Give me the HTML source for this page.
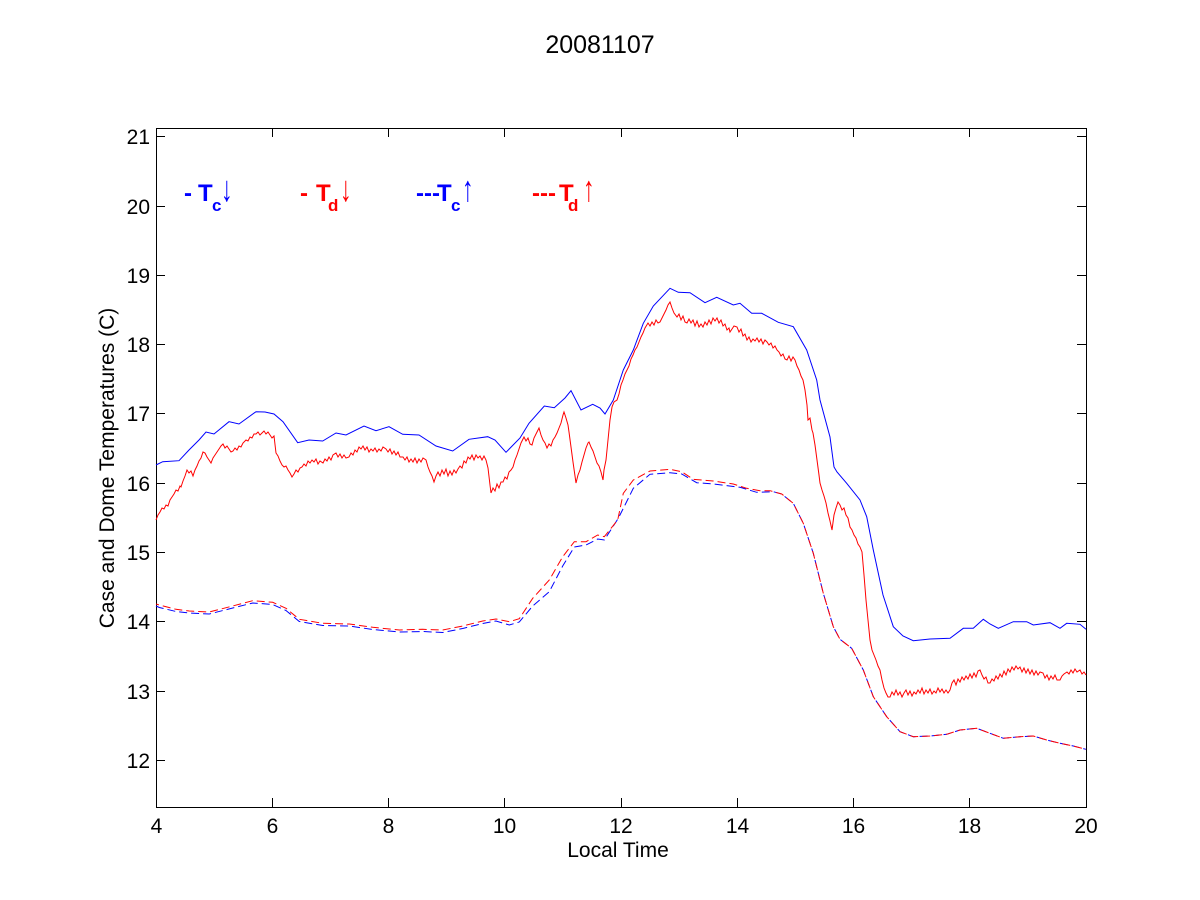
<!DOCTYPE html>
<html>
<head>
<meta charset="utf-8">
<style>
html,body{margin:0;padding:0;background:#fff;}
svg{display:block;}
text{font-family:"Liberation Sans",Arial,sans-serif;fill:#000;}
</style>
</head>
<body>
<svg width="1200" height="900" viewBox="0 0 1200 900" xmlns="http://www.w3.org/2000/svg">
<rect x="0" y="0" width="1200" height="900" fill="#fff"/>

<!-- title -->
<text x="600" y="53" font-size="25" text-anchor="middle">20081107</text>

<!-- axes box -->
<rect x="156.5" y="128.5" width="930" height="679" fill="none" stroke="#000" stroke-width="1"/>

<!-- ticks -->
<g stroke="#000" stroke-width="1">
<line x1="272.5" y1="807" x2="272.5" y2="798"/><line x1="272.5" y1="128" x2="272.5" y2="137"/>
<line x1="388.5" y1="807" x2="388.5" y2="798"/><line x1="388.5" y1="128" x2="388.5" y2="137"/>
<line x1="504.5" y1="807" x2="504.5" y2="798"/><line x1="504.5" y1="128" x2="504.5" y2="137"/>
<line x1="621.5" y1="807" x2="621.5" y2="798"/><line x1="621.5" y1="128" x2="621.5" y2="137"/>
<line x1="737.5" y1="807" x2="737.5" y2="798"/><line x1="737.5" y1="128" x2="737.5" y2="137"/>
<line x1="853.5" y1="807" x2="853.5" y2="798"/><line x1="853.5" y1="128" x2="853.5" y2="137"/>
<line x1="969.5" y1="807" x2="969.5" y2="798"/><line x1="969.5" y1="128" x2="969.5" y2="137"/>
<line x1="156" y1="760.5" x2="165" y2="760.5"/><line x1="1086" y1="760.5" x2="1077" y2="760.5"/>
<line x1="156" y1="691.5" x2="165" y2="691.5"/><line x1="1086" y1="691.5" x2="1077" y2="691.5"/>
<line x1="156" y1="621.5" x2="165" y2="621.5"/><line x1="1086" y1="621.5" x2="1077" y2="621.5"/>
<line x1="156" y1="552.5" x2="165" y2="552.5"/><line x1="1086" y1="552.5" x2="1077" y2="552.5"/>
<line x1="156" y1="483.5" x2="165" y2="483.5"/><line x1="1086" y1="483.5" x2="1077" y2="483.5"/>
<line x1="156" y1="413.5" x2="165" y2="413.5"/><line x1="1086" y1="413.5" x2="1077" y2="413.5"/>
<line x1="156" y1="344.5" x2="165" y2="344.5"/><line x1="1086" y1="344.5" x2="1077" y2="344.5"/>
<line x1="156" y1="275.5" x2="165" y2="275.5"/><line x1="1086" y1="275.5" x2="1077" y2="275.5"/>
<line x1="156" y1="206.5" x2="165" y2="206.5"/><line x1="1086" y1="206.5" x2="1077" y2="206.5"/>
<line x1="156" y1="136.5" x2="165" y2="136.5"/><line x1="1086" y1="136.5" x2="1077" y2="136.5"/>
</g>

<!-- x tick labels -->
<g font-size="21" text-anchor="middle">
<text x="156.5" y="833">4</text>
<text x="272.5" y="833">6</text>
<text x="388.5" y="833">8</text>
<text x="504.5" y="833">10</text>
<text x="621" y="833">12</text>
<text x="737.5" y="833">14</text>
<text x="853.5" y="833">16</text>
<text x="969.5" y="833">18</text>
<text x="1086" y="833">20</text>
</g>
<!-- y tick labels -->
<g font-size="21" text-anchor="end">
<text x="150" y="768">12</text>
<text x="150" y="699">13</text>
<text x="150" y="629">14</text>
<text x="150" y="560">15</text>
<text x="150" y="491">16</text>
<text x="150" y="421">17</text>
<text x="150" y="352">18</text>
<text x="150" y="283">19</text>
<text x="150" y="214">20</text>
<text x="150" y="144">21</text>
</g>

<!-- axis labels -->
<text x="618" y="857" font-size="21" text-anchor="middle">Local Time</text>
<text x="0" y="0" font-size="21" text-anchor="middle" transform="translate(114,468) rotate(-90)">Case and Dome Temperatures (C)</text>

<!-- legend -->
<g font-weight="bold">
<text x="184" y="201" font-size="24" style="fill:#0000ff">-</text>
<text x="198" y="201" font-size="24" style="fill:#0000ff">T</text>
<text x="212" y="211" font-size="17" style="fill:#0000ff">c</text>
<text x="300" y="201" font-size="24" style="fill:#ff0000">-</text>
<text x="316" y="201" font-size="24" style="fill:#ff0000">T</text>
<text x="328" y="211" font-size="17" style="fill:#ff0000">d</text>
<text x="416" y="201" font-size="24" style="fill:#0000ff">---</text>
<text x="437" y="201" font-size="24" style="fill:#0000ff">T</text>
<text x="451" y="211" font-size="17" style="fill:#0000ff">c</text>
<text x="532" y="201" font-size="24" style="fill:#ff0000">---</text>
<text x="559" y="201" font-size="24" style="fill:#ff0000">T</text>
<text x="568" y="211" font-size="17" style="fill:#ff0000">d</text>
</g>
<g font-size="36">
<text transform="translate(221,201) scale(0.65,1)" style="fill:#0000ff">↓</text>
<text transform="translate(340,201) scale(0.65,1)" style="fill:#ff0000">↓</text>
<text transform="translate(462,201) scale(0.65,1)" style="fill:#0000ff">↑</text>
<text transform="translate(583,201) scale(0.65,1)" style="fill:#ff0000">↑</text>
</g>

<!-- dashed curves -->
<polyline fill="none" stroke="#0000ff" stroke-width="1" stroke-dasharray="8,4" points="156,606 159.3,607.5 176,611.5 189.3,613 209.3,614 232.7,608 252.7,603 272.7,604.5 286,610.5 299.3,621.5 322.7,625.5 349.3,626 372.7,629.5 399.3,632 422.7,631.5 442.7,632.5 462.7,628.5 482.7,623.5 496,621 509.3,625 519.3,622 532.7,606 549.3,591.7 562.7,566 574.3,547 586,545 597.7,539 604.3,540 618.3,518.3 625,505 633.3,488.3 650,474.3 670,472.7 681.7,474 696.7,482.7 713.3,484 740,487.3 756.7,492.3 773.3,491.7 781.7,494 793.3,503.3 803.3,523.3 813.3,553.3 823.3,593.3 833.3,626.7 840,639.3 851.7,648.3 863.3,670 873.3,696.7 886.7,716.7 900,731.7 913.3,736.7 930,736 946.7,734.3 960,730 976.7,728.3 990,733.3 1003.3,738.3 1020,736.7 1033.3,736 1046.7,740 1060,743.3 1073.3,746 1086,749.3"/>
<polyline fill="none" stroke="#ff0000" stroke-width="1" stroke-dasharray="8,4" stroke-dashoffset="5" points="156,604 159.3,605 176,609.3 189.3,611 209.3,612 232.7,606 252.7,600.7 272.7,602.3 286,608.3 299.3,619.3 322.7,623.3 349.3,624 372.7,627.3 399.3,630 422.7,629.3 442.7,630 462.7,626 482.7,621 496,619 509.3,621.7 519.3,618.7 532.7,598.3 549.3,580 562.7,556.7 574.3,541.7 586,541.7 597.7,535 604.3,536.7 617.7,520 623.3,493.3 633.3,480 650,471 670,469.3 681.7,471.7 693.3,479.3 713.3,481 733.3,484 746.7,488.3 760,490.7 770,490.7 781.7,494 793.3,503.3 803.3,523.3 813.3,553.3 823.3,593.3 833.3,626.7 840,639.3 851.7,648.3 863.3,670 873.3,696.7 886.7,716.7 900,731.7 913.3,736.7 930,736 946.7,734.3 960,730 976.7,728.3 990,733.3 1003.3,738.3 1020,736.7 1033.3,736 1046.7,740 1060,743.3 1073.3,746 1086,749.3"/>

<!-- solid blue Tc down -->
<polyline fill="none" stroke="#0000ff" stroke-width="1" points="156,465 162.7,461.7 179,460.7 189,450 199,440 206,432 214,434 229,421.7 239,424 256,411.7 265,412 274,414 283,421.7 297.7,442.7 309,440 322.7,441 336,433 346,435 364,426 376,430.7 389,426.7 402.7,434.3 419,435 436,446 452.7,451 469,439.3 487.7,436.7 495,440 506,452.3 520,438 529,423.3 544.3,406 554.3,407.7 565,398 571,390.7 581,410 592.7,404.3 600,408 605,414 613.3,400 623.3,370 633.3,350 643.3,323.3 653.3,306 670,288.3 678.3,292.3 690,292.7 705,302.7 716.7,297.3 733.3,305 740,303.3 751.7,313.3 761.7,313.3 778.3,322.3 793.3,326.7 806.7,350 816.7,380 820,400 830,437 834,467 837,472 846.7,483.3 860,500 866.7,516.7 873.3,550 883,595 893.3,626.7 903,636 913.3,640.7 930,639 950,638.3 963.3,628.3 973.3,628.3 983.3,619.3 990,624 998.3,628.3 1013.3,621.7 1026.7,621.7 1033.3,625 1050,622.7 1060,628.3 1066.7,623.3 1080,624.3 1086,629.3"/>

<!-- solid red Td down (noisy) -->
<polyline fill="none" stroke="#ff0000" stroke-width="1" points="156,520 158,515 160,512 162,508 164,509 166,505 168,506 170,500 172,497 174,494 176,490 178,491 180,486 181,487 183,481 185,476 187,470 189,473 191,471 193,476 195,470 197,466 199,461 201,458 203,452 205,453 207,457 209,460 211,463 213,458 215,455 217,452 219,449 221,446 223,444 225,448 227,446 229,449 231,452 233,451 235,448 237,450 239,446 241,447 243,443 246,440 248,441 250,437 252,438 254,434 256,434 258,432 260,435 262,433 264,431 266,434 268,432 270,435 272,438 274,436 276,453 278,456 280,461 282,465 284,467 286,466 288,470 290,473 292,477 294,474 296,470 298,472 300,468 302,467 304,464 306,466 308,461 310,463 312,460 314,462 316,459 318,464 320,461 323,463 325,459 327,461 329,457 331,460 333,455 336,453 338,457 340,454 342,458 344,455 346,458 349,457 351,453 353,455 355,450 357,452 359,447 361,449 363,446 365,450 367,447 369,452 371,449 373,451 375,448 377,452 379,449 381,451 383,447 386,449 388,452 390,449 392,454 394,451 396,455 398,452 400,457 403,457 405,460 407,457 409,462 411,459 413,462 415,458 417,463 419,459 421,462 423,458 426,460 428,467 430,472 432,476 434,482 436,476 438,472 440,476 442,470 444,474 446,469 448,476 450,471 452,475 454,470 456,473 458,469 460,466 462,468 464,461 466,463 468,457 470,459 472,455 474,460 476,455 478,458 480,456 482,460 484,456 486,460 488,468 490,485 491,493 493,488 495,491 497,484 499,488 501,482 503,482 505,477 507,479 509,472 511,470 513,467 515,460 517,455 519,449 521,443 524,437 526,441 528,438 530,444 532,445 534,438 536,434 538,430 539,428 541,435 543,440 545,443 547,448 549,444 551,446 553,440 555,437 557,433 559,428 561,423 563,415 564,412 566,418 568,425 569,432 571,447 573,462 575,476 576,483 578,475 580,470 582,462 584,455 586,448 588,443 589,442 591,447 593,451 595,457 597,463 599,466 601,472 603,480 604,470 606,460 608,440 610,420 612,407 614,402 617,400 619,394 621,385 623,380 625,374 627,370 629,366 631,359 633,355 635,350 637,347 639,342 641,337 643,333 645,328 648,323 650,326 652,322 654,325 656,320 658,323 660,322 662,318 664,314 666,310 668,305 670,302 672,308 674,313 677,317 679,314 681,320 683,316 685,322 687,323 689,319 691,323 693,320 695,326 697,321 699,327 701,324 703,327 705,322 707,325 709,320 711,324 713,318 715,321 717,318 719,323 721,320 723,326 725,324 727,330 729,328 730,332 732,329 734,326 737,327 739,332 741,329 743,336 745,334 747,340 749,337 751,342 753,339 755,341 757,338 759,342 761,339 763,344 765,340 767,342 769,345 771,343 773,348 775,346 777,350 779,352 781,356 783,354 785,359 787,360 789,356 791,361 793,357 795,360 797,366 799,370 801,376 803,380 805,390 807,405 808,420 810,418 812,430 813,433 815,445 817,460 819,475 820,483 822,490 824,496 826,503 828,513 830,521 832,530 834,515 836,508 838,502 840,505 842,510 844,508 846,515 848,518 850,527 852,530 854,535 856,538 858,544 860,547 862,552 864,575 866,600 868,620 870,640 872,650 874,655 876,660 878,666 880,670 882,680 884,688 886,693 888,697 890,697 892,692 894,695 896,690 898,695 900,692 902,697 904,693 906,690 908,695 910,691 912,696 914,692 916,694 918,690 920,693 922,688 924,694 926,690 928,693 930,689 932,694 934,691 936,693 938,688 940,692 942,689 944,693 946,690 948,693 950,690 952,683 954,680 956,685 958,679 960,682 962,677 964,680 966,676 968,679 970,674 972,678 974,673 976,677 978,671 980,670 982,675 984,679 986,677 988,683 990,683 992,679 994,681 996,676 998,679 1000,674 1002,677 1004,671 1006,675 1008,669 1010,672 1012,667 1014,670 1016,666 1018,669 1020,667 1022,672 1024,668 1026,673 1028,669 1030,674 1032,670 1034,675 1036,671 1038,675 1040,672 1043,673 1045,678 1047,675 1049,680 1051,676 1053,679 1055,675 1057,680 1060,680 1062,676 1064,674 1067,672 1069,674 1071,670 1073,673 1075,669 1077,672 1080,670 1082,674 1084,672 1086,675"/>
</svg>
</body>
</html>
